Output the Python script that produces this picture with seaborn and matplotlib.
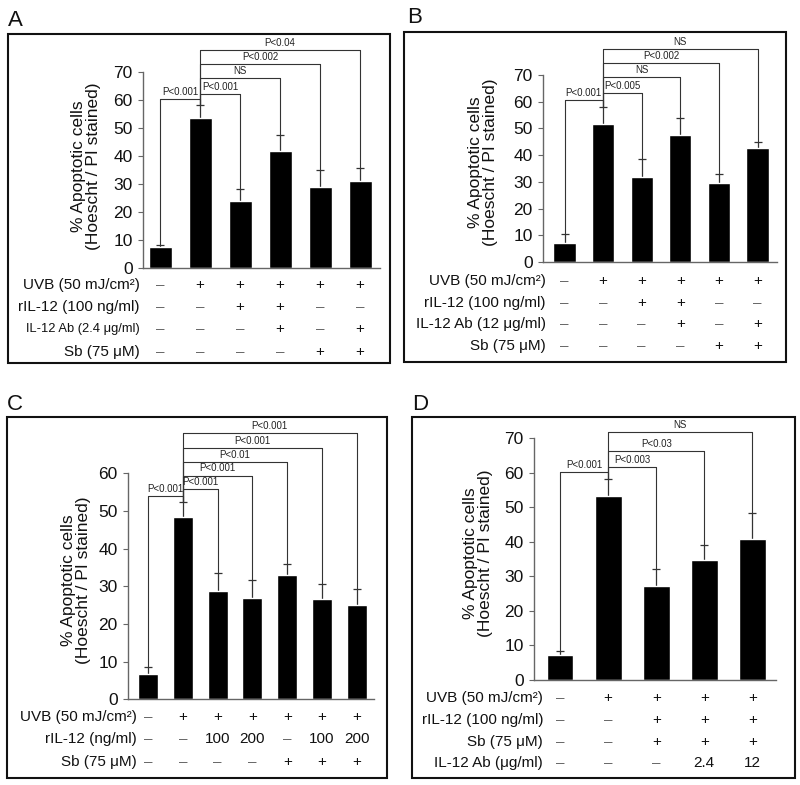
import numpy as np
import seaborn as sns
import matplotlib.pyplot as plt
from matplotlib.patches import Rectangle
from matplotlib.transforms import blended_transform_factory

sns.set_style('white')
plt.rcParams['font.family'] = ['Liberation Sans', 'DejaVu Sans']

W, H = 800, 785

# Panel A
a_means = [7.4, 53.5, 23.8, 41.9, 29.0, 31.2]
a_sds = [0.9, 4.8, 4.4, 5.6, 6.0, 4.6]
a_targets = [0, 2, 3, 4, 5]
a_heights = [60.4, 62.1, 68.0, 73.0, 78.0]
a_plabels = ['P<0.001', 'P<0.001', 'NS', 'P<0.002', 'P<0.04']
a_rows = ['UVB (50 mJ/cm²)', 'rIL-12 (100 ng/ml)', 'IL-12 Ab (2.4 μg/ml)', 'Sb (75 μM)']
a_marks = [['–', '+', '+', '+', '+', '+'],
           ['–', '–', '+', '+', '–', '–'],
           ['–', '–', '–', '+', '–', '+'],
           ['–', '–', '–', '–', '+', '+']]

# Panel B
b_means = [7.2, 51.6, 31.7, 47.7, 29.7, 42.7]
b_sds = [3.1, 6.6, 6.8, 6.1, 3.4, 2.3]
b_targets = [0, 2, 3, 4, 5]
b_heights = [60.7, 63.1, 69.2, 74.4, 79.7]
b_plabels = ['P<0.001', 'P<0.005', 'NS', 'P<0.002', 'NS']
b_rows = ['UVB (50 mJ/cm²)', 'rIL-12 (100 ng/ml)', 'IL-12 Ab (12 μg/ml)', 'Sb (75 μM)']
b_marks = [['–', '+', '+', '+', '+', '+'],
           ['–', '–', '+', '+', '–', '–'],
           ['–', '–', '–', '+', '–', '+'],
           ['–', '–', '–', '–', '+', '+']]

# Panel C
c_means = [6.6, 48.5, 28.8, 26.8, 33.0, 26.6, 25.1]
c_sds = [1.9, 3.8, 4.8, 5.0, 2.8, 4.0, 4.3]
c_targets = [0, 2, 3, 4, 5, 6]
c_heights = [53.9, 55.8, 59.4, 63.1, 66.8, 70.6]
c_plabels = ['P<0.001', 'P<0.001', 'P<0.001', 'P<0.01', 'P<0.001', 'P<0.001']
c_rows = ['UVB (50 mJ/cm²)', 'rIL-12 (ng/ml)', 'Sb (75 μM)']
c_marks = [['–', '+', '+', '+', '+', '+', '+'],
           ['–', '–', '100', '200', '–', '100', '200'],
           ['–', '–', '–', '–', '+', '+', '+']]

# Panel D
d_means = [7.3, 53.4, 27.2, 34.8, 40.7]
d_sds = [1.0, 4.8, 4.9, 4.3, 7.8]
d_targets = [0, 2, 3, 4]
d_heights = [60.2, 61.8, 66.4, 71.8]
d_plabels = ['P<0.001', 'P<0.003', 'P<0.03', 'NS']
d_rows = ['UVB (50 mJ/cm²)', 'rIL-12 (100 ng/ml)', 'Sb (75 μM)', 'IL-12 Ab (μg/ml)']
d_marks = [['–', '+', '+', '+', '+'],
           ['–', '–', '+', '+', '+'],
           ['–', '–', '+', '+', '+'],
           ['–', '–', '–', '2.4', '12']]

ylabel = '% Apoptotic cells\n(Hoescht / PI stained)'

# layout in pixels
panels = [
    dict(letter='A', means=a_means, sds=a_sds, targets=a_targets, heights=a_heights,
         plabels=a_plabels, rows=a_rows, marks=a_marks, ymax=70,
         ax_px=(143, 380, 72, 268), c0=160, step=40, width=0.575,
         box=(8, 34, 390, 363), let=(8, 26), ylab=(86, 166),
         row_y=[285, 306.7, 329, 351.7], row_x=140, row_fs=[11, 11, 9.3, 11]),
    dict(letter='B', means=b_means, sds=b_sds, targets=b_targets, heights=b_heights,
         plabels=b_plabels, rows=b_rows, marks=b_marks, ymax=70,
         ax_px=(543, 777, 75, 262), c0=564.5, step=38.6, width=0.57,
         box=(404, 32, 786, 362), let=(407, 23), ylab=(483, 162),
         row_y=[281, 303.3, 324, 345.7], row_x=546, row_fs=[11, 11, 11, 11]),
    dict(letter='C', means=c_means, sds=c_sds, targets=c_targets, heights=c_heights,
         plabels=c_plabels, rows=c_rows, marks=c_marks, ymax=60,
         ax_px=(128, 374, 473.3, 699.3), c0=148, step=34.8, width=0.575,
         box=(7, 417, 387, 778), let=(7, 410), ylab=(76, 580),
         row_y=[716.7, 739.3, 761.7], row_x=137, row_fs=[11, 11, 11]),
    dict(letter='D', means=d_means, sds=d_sds, targets=d_targets, heights=d_heights,
         plabels=d_plabels, rows=d_rows, marks=d_marks, ymax=70,
         ax_px=(534, 776, 438.3, 680), c0=560, step=48.1, width=0.56,
         box=(412, 417, 795, 778), let=(412, 410), ylab=(478, 553),
         row_y=[698.3, 720, 741.7, 762.7], row_x=543, row_fs=[11, 11, 11, 11]),
]

fig = plt.figure(figsize=(W / 100, H / 100), dpi=100)
line_c = '#333333'

for p in panels:
    left, right, top, bottom = p['ax_px']
    ax = fig.add_axes([left / W, 1 - bottom / H, (right - left) / W, (bottom - top) / H])
    n = len(p['means'])
    idx = list(range(n))
    means = np.array(p['means'])
    tops = means + np.array(p['sds'])
    sns.barplot(x=idx, y=p['means'], color='black', saturation=1, width=p['width'],
                errorbar=None, ax=ax, zorder=2)
    # upper error bars only
    ax.vlines(idx, means, tops, color=line_c, lw=0.9, zorder=1)
    ax.plot(idx, tops, ls='none', marker='_', ms=6, mew=0.9, color=line_c, zorder=1)
    ax.set_xlim((left - p['c0']) / p['step'], (right - p['c0']) / p['step'])
    ax.set_ylim(0, p['ymax'])
    ax.set_yticks(range(0, p['ymax'] + 1, 10))
    ax.set_xticks([])
    ax.set_xlabel('')
    ax.set_ylabel('')
    sns.despine(ax=ax)
    for s in ['left', 'bottom']:
        ax.spines[s].set_color('#666666')
        ax.spines[s].set_linewidth(1)
    ax.tick_params(axis='y', length=3.5, width=0.8, color='#666666', pad=4,
                   labelsize=12.5, labelcolor='#111111', left=True)

    # significance brackets (all against bar 1)
    ref = 1
    for t, h, lab in zip(p['targets'], p['heights'], p['plabels']):
        x0, x1 = min(t, ref), max(t, ref)
        ax.plot([x0, x1], [h, h], color=line_c, lw=0.8, clip_on=False)
        ax.plot([t, t], [h, tops[t]], color=line_c, lw=0.8, clip_on=False)
        ax.plot([ref, ref], [h, tops[ref]], color=line_c, lw=0.8, clip_on=False)
        ax.annotate(lab, ((x0 + x1) / 2, h), xytext=(0, 1.5), textcoords='offset points',
                    ha='center', va='bottom', fontsize=7, color='#222222',
                    annotation_clip=False)

    # treatment table below the axis
    tr = blended_transform_factory(ax.transData, ax.transAxes)
    for ry, rlab, rfs, rmarks in zip(p['row_y'], p['rows'], p['row_fs'], p['marks']):
        fig.text(p['row_x'] / W, 1 - ry / H, rlab, ha='right', va='center',
                 fontsize=rfs, color='#111111')
        yax = (bottom - ry) / (bottom - top)
        for i, m in enumerate(rmarks):
            ax.text(i, yax, m, transform=tr, ha='center', va='center', fontsize=11,
                    color='#666666' if m == '–' else '#111111')

    fig.text(p['ylab'][0] / W, 1 - p['ylab'][1] / H, ylabel, rotation=90,
             ha='center', va='center', multialignment='center', fontsize=12.5,
             linespacing=1.05, color='#111111')

    x0b, y0b, x1b, y1b = p['box']
    fig.add_artist(Rectangle((x0b / W, 1 - y1b / H), (x1b - x0b) / W, (y1b - y0b) / H,
                             transform=fig.transFigure, fill=False, lw=1.5,
                             edgecolor='#111111'))
    fig.text(p['let'][0] / W, 1 - p['let'][1] / H, p['letter'], fontsize=16,
             ha='left', va='baseline', color='#111111')

fig.savefig('out.png', dpi=100)
